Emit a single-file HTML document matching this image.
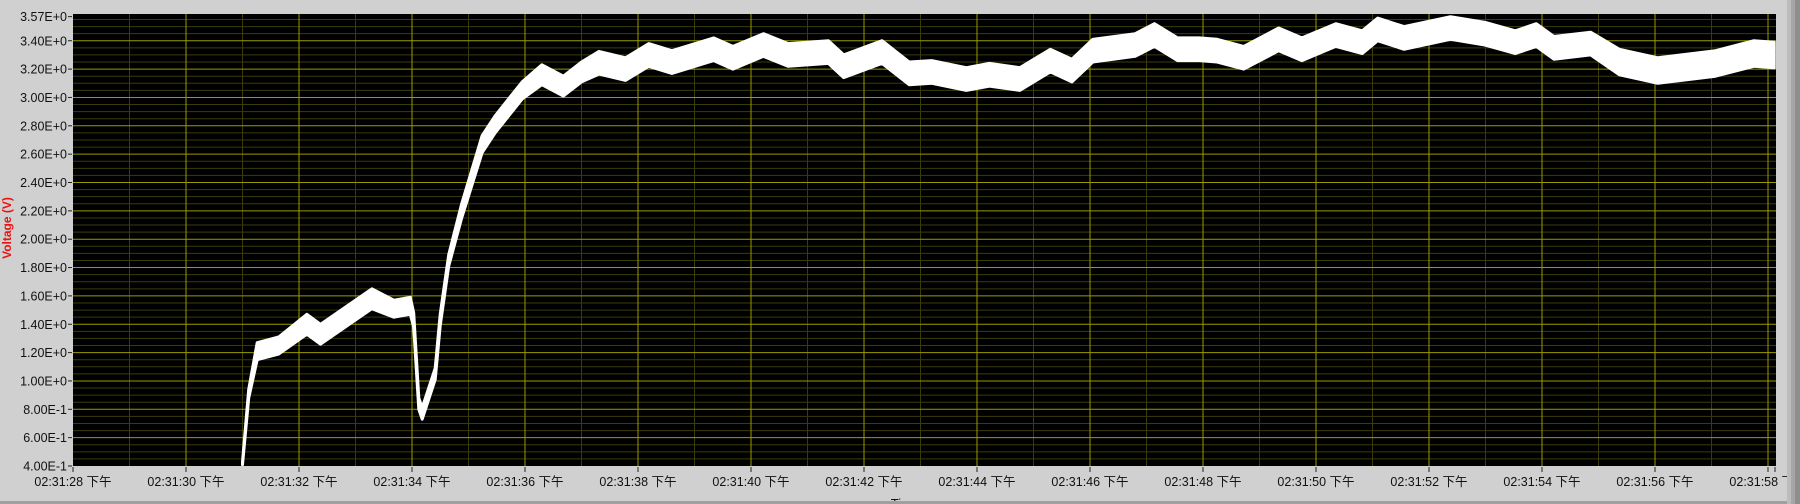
<!DOCTYPE html>
<html><head><meta charset="utf-8">
<style>
html,body{margin:0;padding:0;background:#d0d0d0;overflow:hidden;}
svg{display:block;font-family:"Liberation Sans","Noto Sans CJK SC",sans-serif;}
</style></head>
<body>
<svg id="chart" width="1800" height="504">
  <rect x="0" y="0" width="1800" height="504" fill="#d0d0d0"/>
  <rect x="73" y="14" width="1703" height="452" fill="#000"/>
  <g id="grid"></g>
  <g id="trace"></g>
  <g id="yaxis"></g>
  <g id="xaxis"></g>
  <text x="8" y="228" transform="rotate(-90 8 228)" text-anchor="middle" dominant-baseline="middle" fill="#ee1111" font-size="12" font-weight="bold">Voltage (V)</text>
  <text x="905" y="508" text-anchor="middle" fill="#111" font-size="13">Time</text>
  <rect x="1787" y="0" width="4" height="504" fill="#bcbcbc"/>
  <rect x="1791" y="0" width="4" height="504" fill="#a6a6a6"/>
  <rect x="1795" y="0" width="5" height="504" fill="#8e8e8e"/>
  <rect x="0" y="501" width="1787" height="3" fill="#a0a0a0"/>
</svg>
<script>
const times = [31.0,31.11,31.26,31.64,32.14,32.38,33.29,33.68,33.97,34.03,34.12,34.18,34.41,34.5,34.65,34.88,35.24,35.47,35.95,36.3,36.68,37.0,37.31,37.78,38.19,38.6,39.34,39.68,40.22,40.66,41.37,41.64,42.32,42.8,43.2,43.81,44.22,44.76,45.3,45.68,46.05,46.8,47.14,47.55,47.93,48.25,48.72,49.34,49.75,50.35,50.82,51.09,51.56,52.38,52.99,53.53,53.9,54.21,54.86,55.37,56.05,57.07,57.75,58.11];
const volts = [0.42,0.91,1.21,1.25,1.40,1.33,1.58,1.51,1.53,1.43,0.84,0.77,1.05,1.43,1.85,2.20,2.67,2.81,3.05,3.16,3.08,3.18,3.245,3.20,3.30,3.25,3.34,3.28,3.37,3.30,3.32,3.22,3.32,3.17,3.18,3.13,3.16,3.13,3.26,3.19,3.33,3.37,3.44,3.34,3.34,3.33,3.28,3.41,3.34,3.44,3.39,3.48,3.42,3.49,3.45,3.39,3.44,3.35,3.38,3.25,3.19,3.24,3.31,3.30];
const spread = [0.01,0.03,0.06,0.06,0.07,0.07,0.07,0.06,0.06,0.05,0.04,0.04,0.04,0.04,0.04,0.05,0.06,0.06,0.06,0.07,0.07,0.07,0.08,0.08,0.08,0.08,0.08,0.08,0.08,0.08,0.08,0.08,0.08,0.08,0.08,0.08,0.08,0.08,0.08,0.08,0.08,0.08,0.08,0.08,0.08,0.08,0.08,0.08,0.08,0.08,0.08,0.08,0.08,0.08,0.08,0.08,0.08,0.08,0.08,0.09,0.09,0.09,0.09,0.09];
const yTickValues = [3.57,3.4,3.2,3.0,2.8,2.6,2.4,2.2,2.0,1.8,1.6,1.4,1.2,1.0,0.8,0.6,0.4];
const yTickLabels = ["3.57E+0","3.40E+0","3.20E+0","3.00E+0","2.80E+0","2.60E+0","2.40E+0","2.20E+0","2.00E+0","1.80E+0","1.60E+0","1.40E+0","1.20E+0","1.00E+0","8.00E-1","6.00E-1","4.00E-1"];
const xTickValues = [28,30,32,34,36,38,40,42,44,46,48,50,52,54,56,58];
const xTickLabels = ["02:31:28 下午","02:31:30 下午","02:31:32 下午","02:31:34 下午","02:31:36 下午","02:31:38 下午","02:31:40 下午","02:31:42 下午","02:31:44 下午","02:31:46 下午","02:31:48 下午","02:31:50 下午","02:31:52 下午","02:31:54 下午","02:31:56 下午","02:31:58 下午"];

const NS = "http://www.w3.org/2000/svg";
const L = 73, R = 1776, T = 14, B = 466;
const tMin = 28, tMax = 28 + (R - L) / 56.5;
const vMin = 0.4, vMax = 0.4 + (B - T) / 141.75;
const xs = t => L + (t - tMin) / (tMax - tMin) * (R - L);
const ys = v => B - (v - vMin) / (vMax - vMin) * (B - T);
function mk(tag, attrs, parent) {
  const e = document.createElementNS(NS, tag);
  for (const k in attrs) e.setAttribute(k, attrs[k]);
  parent.appendChild(e);
  return e;
}
const grid = document.getElementById('grid');
for (let v = 0.45; v < vMax; v += 0.05) {
  const major = Math.abs(v / 0.2 - Math.round(v / 0.2)) < 1e-6;
  if (major) continue;
  const ln = mk('line', {x1: L, x2: R, y1: ys(v), y2: ys(v), stroke: '#3b3b0c', 'stroke-width': 1}, grid);
  
  
}
for (let t = 29; t < tMax; t += 2) {
  const ln = mk('line', {x1: xs(t), x2: xs(t), y1: T, y2: B, stroke: '#3b3b0c', 'stroke-width': 1}, grid);
  
  
}
for (let i = 1; i < yTickValues.length - 1; i++) {
  const y = ys(yTickValues[i]);
  const ln = mk('line', {x1: L, x2: R, y1: y, y2: y, stroke: '#9a9a00', 'stroke-width': 1}, grid);
  
  
}
for (let i = 1; i < xTickValues.length; i++) {
  const x = xs(xTickValues[i]);
  const ln = mk('line', {x1: x, x2: x, y1: T, y2: B, stroke: '#9a9a00', 'stroke-width': 1}, grid);
  
  
}
const trace = document.getElementById('trace');
let up = [], lo = [];
for (let i = 0; i < times.length; i++) {
  up.push(xs(times[i]).toFixed(1) + ',' + ys(volts[i] + spread[i]).toFixed(1));
  lo.push(xs(times[i]).toFixed(1) + ',' + ys(volts[i] - spread[i]).toFixed(1));
}
const poly = mk('polygon', {points: up.concat(lo.reverse()).join(' '), fill: '#fff', stroke: '#fff', 'stroke-width': 3, 'stroke-linejoin': 'round'}, trace);


mk('rect', {x: 73, y: 466, width: 1714, height: 35, fill: '#d0d0d0'}, trace);
mk('rect', {x: 0, y: 0, width: 1787, height: 13, fill: '#d0d0d0'}, trace);
mk('rect', {x: 1776, y: 0, width: 11, height: 501, fill: '#d0d0d0'}, trace);
const ya = document.getElementById('yaxis');
for (let i = 0; i < yTickValues.length; i++) {
  const y = ys(yTickValues[i]);
  const tk = mk('line', {x1: 68, x2: 72, y1: y, y2: y, stroke: '#222', 'stroke-width': 1}, ya);
  
  
  const tx = mk('text', {x: 67, y: y + 4.5, 'text-anchor': 'end', 'font-size': 12.5, fill: '#111'}, ya);
  tx.textContent = yTickLabels[i];
  
  
}
const xa = document.getElementById('xaxis');
for (let i = 0; i < xTickValues.length; i++) {
  const x = xs(xTickValues[i]);
  const tk = mk('line', {x1: x, x2: x, y1: 467, y2: 472, stroke: '#222', 'stroke-width': 1}, xa);
  
  
  const tx = mk('text', {x: x, y: 486, 'text-anchor': 'middle', 'font-size': 12.5, fill: '#111'}, xa);
  tx.textContent = xTickLabels[i];
  
  
}
const endTick = mk('line', {x1: R - 1, x2: R - 1, y1: 467, y2: 472, stroke: '#222', 'stroke-width': 1}, xa);


</script>
</body></html>
